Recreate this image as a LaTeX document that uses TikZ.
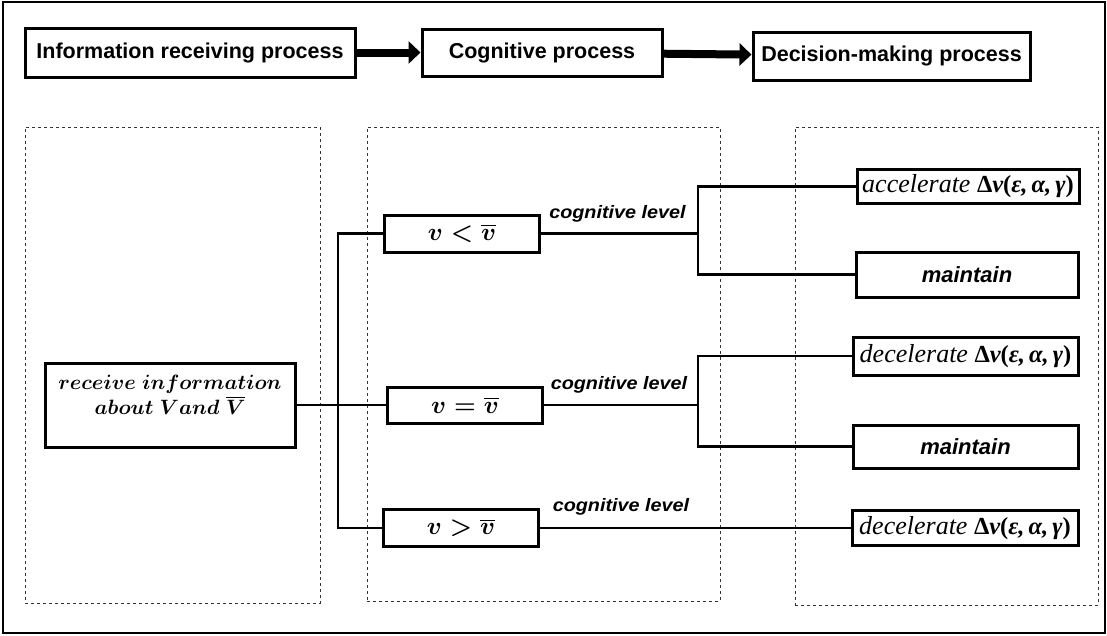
\documentclass[tikz,border=0pt]{standalone}
\usepackage{amsmath}
\usepackage{fontspec}
\setsansfont{Liberation Sans}
\newfontfamily\levelfont[FakeStretch=1.1]{Liberation Sans}
\newfontfamily\actfont{Liberation Serif}
\usepackage{tikz}
\usetikzlibrary{arrows.meta,positioning,calc}
\tikzset{
  headbox/.style={draw=black, line width=3pt, align=center, inner sep=0pt, font=\sffamily\bfseries\fontsize{21.5}{24}\selectfont},
  mathbox/.style={draw=black, line width=3pt, align=center, inner sep=0pt, font=\fontsize{24}{26}\selectfont},
  actbox/.style={draw=black, line width=3pt, align=center, inner sep=0pt, minimum width=222pt, font=\actfont\itshape\fontsize{26}{28}\selectfont},
  keepbox/.style={draw=black, line width=3pt, align=center, inner sep=0pt, minimum width=222pt, font=\sffamily\bfseries\itshape\fontsize{22}{24}\selectfont},
  framebox/.style={draw=black!80, dashed, line width=0.8pt, inner sep=0pt},
  bigarrow/.style={-{Triangle[length=12pt,width=22pt]}, line width=8pt},
  link/.style={line width=2.8pt},
  lvl/.style={inner sep=0pt, font=\levelfont\bfseries\itshape\fontsize{18}{20}\selectfont}
}
\newcommand{\mbf}[1]{{\boldmath$#1$}}
\newcommand{\dv}{{\fontsize{24.5}{26}\selectfont\bfseries\upshape Δ\itshape v\upshape(\itshape ε,\,α,\,γ\upshape)}}
\begin{document}
\begin{tikzpicture}[x=1pt,y=-1pt]
\useasboundingbox (0,0) rectangle (1107,635);
\draw[line width=1.8pt] (3,2) rectangle (1105,633);
% process headings
\node[headbox, minimum width=330pt, minimum height=49pt] (info) at (190,52.5) {Information receiving process};
\node[headbox, minimum width=240pt, minimum height=47pt] (cog) at (542,52.5) {Cognitive process};
\node[headbox, minimum width=277pt, minimum height=48pt] (dec) at (891.5,56) {Decision-making process};
\draw[bigarrow] (info) -- (cog);
\draw[bigarrow] (cog) -- (dec);
% dashed stages
\node[framebox, minimum width=295pt, minimum height=476pt] (stageA) at (172.5,365) {};
\node[framebox, minimum width=353pt, minimum height=474pt] (stageB) at (543.5,364) {};
\node[framebox, minimum width=303pt, minimum height=478pt] (stageC) at (946.5,366) {};
% information
\node[mathbox, minimum width=250pt, minimum height=84pt, font=\fontsize{21}{25}\selectfont] (recv) at (170,405)
  {\mbf{receive\ information}\\\mbf{about\ V and\ \overline{V}}\\[-4pt]\mbox{}};
% cognition
\node[mathbox, minimum width=155pt, minimum height=37pt] (lt) at (462,233.5) {\mbf{v<\overline{v}}};
\node[mathbox, minimum width=155pt, minimum height=36pt] (eq) at (465,405) {\mbf{v=\overline{v}}};
\node[mathbox, minimum width=155pt, minimum height=37pt] (gt) at (461,528) {\mbf{v>\overline{v}}};
\node[lvl] (lvlA) at (617.5,214) {cognitive level};
\node[lvl] (lvlB) at (619,385) {cognitive level};
\node[lvl] (lvlC) at (621,507) {cognitive level};
% decisions
\node[actbox, minimum height=34pt] (acc) at (968,186.5) {accelerate \dv};
\node[keepbox, minimum height=45pt] (keepA) at (967,274.5) {maintain};
\node[actbox, minimum width=225pt, minimum height=38pt] (decA) at (965.5,356) {decelerate \dv};
\node[keepbox, minimum width=225pt, minimum height=43pt] (keepB) at (965.5,446.5) {maintain};
\node[actbox, minimum width=226pt, minimum height=35pt] (decB) at (965,528) {decelerate \dv};
% connectors
\coordinate (trunk) at (338,405);
\coordinate (forkA) at (698,233.5);
\coordinate (forkB) at (698,405);
\draw[link] (recv.east) -- (eq.west);
\draw[link] (lt.west) -| (trunk) |- (gt.west);
\draw[link] (lt.east) -- (forkA);
\draw[link] (acc.west) -| (forkA) |- (keepA.west);
\draw[link] (eq.east) -- (forkB);
\draw[link] (decA.west) -| (forkB) |- (keepB.west);
\draw[link] (gt.east) -- (decB.west);
\end{tikzpicture}
\end{document}
